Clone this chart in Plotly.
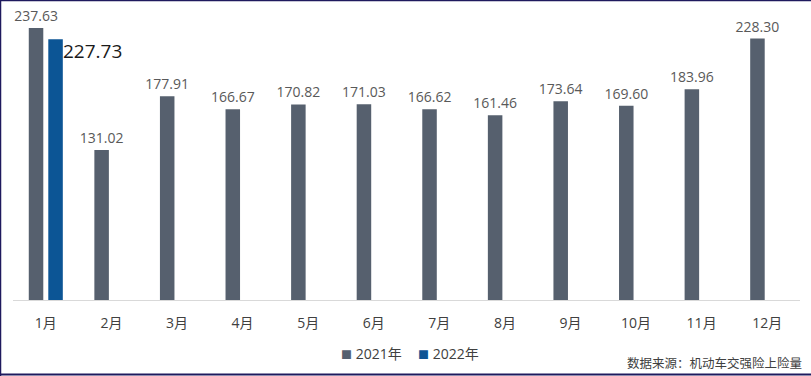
import plotly.graph_objects as go

months = ["1月", "2月", "3月", "4月", "5月", "6月", "7月", "8月", "9月", "10月", "11月", "12月"]
values_2021 = [237.63, 131.02, 177.91, 166.67, 170.82, 171.03, 166.62, 161.46, 173.64, 169.60, 183.96, 228.30]
values_2022 = [227.73, None, None, None, None, None, None, None, None, None, None, None]
series_names = ["2021年", "2022年"]
source_text = "数据来源：机动车交强险上险量"

c2021 = "#56606E"
c2022 = "#0C5595"
FONT = "Open Sans, Noto Sans CJK SC, sans-serif"

W, H = 811, 376
L, R, T, B = 13, 11, 10, 76
pw, ph = W - L - R, H - T - B


def px_x(x):
    return (x - L) / pw


def px_y(y):
    return (H - B - y) / ph


fig = go.Figure()
fig.add_trace(go.Bar(
    x=months, y=values_2021, name=series_names[0],
    marker=dict(color=c2021, line=dict(width=0)),
    texttemplate="%{y:.2f}", textposition="outside", constraintext="none",
    textfont=dict(size=14, color="#595959", family=FONT),
    cliponaxis=False, showlegend=False,
))
fig.add_trace(go.Bar(
    x=months, y=values_2022, name=series_names[1],
    marker=dict(color=c2022, line=dict(width=0)),
    textposition="none", showlegend=False,
))

fig.add_annotation(
    x=months[0], y=values_2022[0], xref="x", yref="y",
    text=f"{values_2022[0]:.2f}", showarrow=False,
    xanchor="left", yanchor="middle", xshift=15, yshift=-12,
    font=dict(size=19, color="#1A1A1A", family=FONT),
)

# legend
for name, col, xp in [(series_names[0], c2021, 339), (series_names[1], c2022, 416)]:
    fig.add_annotation(
        x=px_x(xp), y=px_y(353), xref="paper", yref="paper",
        text=f"<span style='color:{col};font-size:11px'>■</span> {name}",
        showarrow=False, xanchor="left", yanchor="middle",
        font=dict(size=14, color="#404040", family=FONT),
    )

fig.add_annotation(
    x=px_x(804), y=px_y(362), xref="paper", yref="paper",
    text=source_text, showarrow=False, xanchor="right", yanchor="middle",
    font=dict(size=12.5, color="#404040", family="Noto Sans CJK SC, sans-serif"),
)

border = "#1F1A5E"
fig.add_shape(type="line", xref="paper", yref="paper", x0=px_x(0), x1=px_x(W), y0=px_y(0.5), y1=px_y(0.5),
              line=dict(color=border, width=1.5))
fig.add_shape(type="line", xref="paper", yref="paper", x0=px_x(0.5), x1=px_x(0.5), y0=px_y(0), y1=px_y(H),
              line=dict(color=border, width=1.5))
fig.add_shape(type="line", xref="paper", yref="paper", x0=px_x(0), x1=px_x(W), y0=px_y(374.5), y1=px_y(374.5),
              line=dict(color=border, width=2))

fig.update_layout(
    width=W, height=H,
    margin=dict(l=L, r=R, t=T, b=B, pad=0),
    paper_bgcolor="white", plot_bgcolor="white",
    barmode="group", bargap=0.405, bargroupgap=0.256,
    showlegend=False,
    font=dict(family=FONT),
    xaxis=dict(
        showline=True, linecolor="#D9D9D9", linewidth=1, ticks="",
        tickfont=dict(size=14, color="#404040", family=FONT),
        ticklabelstandoff=10, showgrid=False, zeroline=False,
    ),
    yaxis=dict(
        range=[0, ph / 1.145], visible=False, showgrid=False, zeroline=False,
    ),
)

fig.write_html("out.html")
